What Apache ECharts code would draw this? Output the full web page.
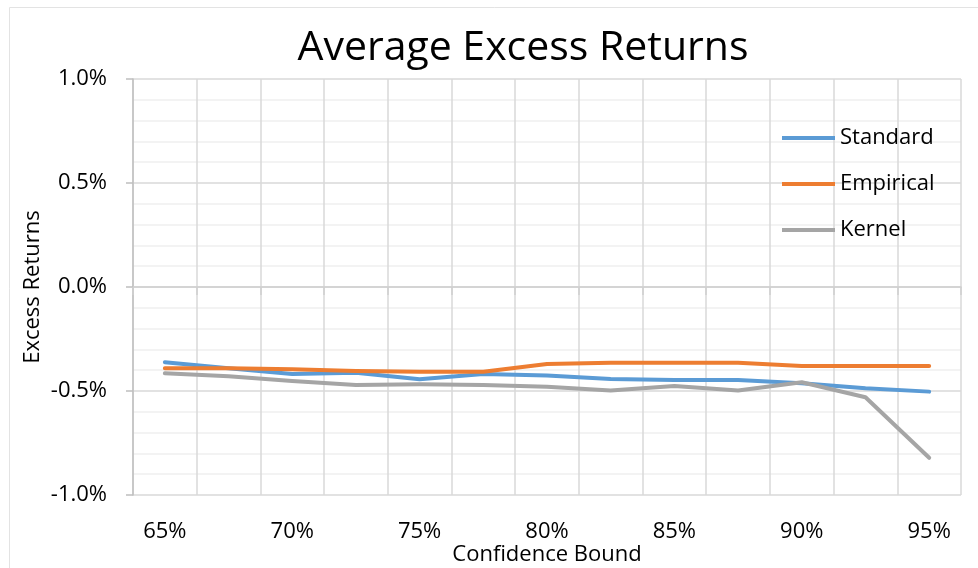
<!DOCTYPE html>
<html>
<head>
<meta charset="utf-8">
<script src="https://cdn.jsdelivr.net/npm/echarts@6/dist/echarts.min.js"></script>
<style>
  html, body { margin: 0; padding: 0; background: #fff; }
  #chart { width: 978px; height: 568px; }
</style>
</head>
<body>
<div id="chart"></div>
<script>
// Confidence bounds (x categories) and average excess returns in percent
const categories = ['65%', '67.5%', '70%', '72.5%', '75%', '77.5%', '80%', '82.5%', '85%', '87.5%', '90%', '92.5%', '95%'];
const standard  = [-0.362, -0.391, -0.418, -0.412, -0.443, -0.418, -0.426, -0.442, -0.447, -0.447, -0.463, -0.487, -0.503];
const empirical = [-0.391, -0.391, -0.396, -0.404, -0.407, -0.407, -0.370, -0.364, -0.364, -0.364, -0.380, -0.380, -0.380];
const kernel    = [-0.415, -0.429, -0.452, -0.471, -0.468, -0.471, -0.479, -0.498, -0.476, -0.498, -0.458, -0.530, -0.821];
const yTicks = { min: -1.0, max: 1.0, step: 0.5 };

const FONT = '"Open Sans", "Noto Sans", sans-serif';
const chart = echarts.init(document.getElementById('chart'), null, { renderer: 'canvas' });

chart.setOption({
  animation: false,
  backgroundColor: '#ffffff',
  graphic: [{
    type: 'rect',
    shape: { x: 9.5, y: 7.5, width: 1000, height: 600 },
    style: { fill: 'none', stroke: '#e3e3e3', lineWidth: 1 },
    silent: true
  }],
  title: {
    text: 'Average Excess Returns',
    left: 518, top: 23, textAlign: 'center',
    textStyle: { fontFamily: FONT, fontSize: 41, fontWeight: 'normal', color: '#000' }
  },
  legend: {
    orient: 'vertical',
    left: 777, top: 122,
    icon: 'rect',
    itemWidth: 53, itemHeight: 4, itemGap: 24,
    textStyle: { fontFamily: FONT, fontSize: 22, lineHeight: 22, color: '#000' },
    data: ['Standard', 'Empirical', 'Kernel']
  },
  grid: { left: 133, right: 17, top: 79, bottom: 73, containLabel: false, outerBoundsMode: 'none' },
  xAxis: [{
    type: 'category',
    data: categories,
    boundaryGap: true,
    position: 'bottom',
    name: 'Confidence Bound',
    nameLocation: 'middle',
    nameGap: 49,
    nameMoveOverlap: false,
    nameTextStyle: { fontFamily: FONT, fontSize: 22, color: '#000' },
    axisLine: { show: false, onZero: false },
    axisTick: { show: false },
    axisLabel: { interval: 1, margin: 26, fontFamily: FONT, fontSize: 22, color: '#000' },
    splitLine: { show: true, interval: 0, lineStyle: { color: '#d9d9d9', width: 1.5 } }
  }, {
    // zero line with downward ticks, as the category axis crosses at 0
    type: 'category',
    data: categories,
    boundaryGap: true,
    position: 'bottom',
    axisLine: { show: true, onZero: true, onZeroAxisIndex: 0, lineStyle: { color: '#d0d0d0', width: 1.5 } },
    axisTick: { show: true, interval: 0, length: 8, lineStyle: { color: '#d0d0d0', width: 1.5 } },
    axisLabel: { show: false },
    splitLine: { show: false }
  }],
  yAxis: {
    type: 'value',
    min: yTicks.min, max: yTicks.max, interval: yTicks.step,
    name: 'Excess Returns',
    nameLocation: 'middle',
    nameGap: 89,
    nameMoveOverlap: false,
    nameTextStyle: { fontFamily: FONT, fontSize: 22, color: '#000' },
    axisLine: { show: true, lineStyle: { color: '#bfbfbf', width: 1.5 } },
    axisTick: { show: true, length: 7, lineStyle: { color: '#bfbfbf', width: 1.5 } },
    axisLabel: {
      margin: 26, fontFamily: FONT, fontSize: 22, color: '#000',
      formatter: v => v.toFixed(1) + '%'
    },
    splitLine: { show: true, lineStyle: { color: '#d9d9d9', width: 1.5 } },
    minorTick: { show: false, splitNumber: 5 },
    minorSplitLine: { show: true, lineStyle: { color: '#f0f0f0', width: 1.5 } }
  },
  series: [
    { name: 'Standard', type: 'line', data: standard, symbol: 'none', color: '#5b9bd5',
      lineStyle: { width: 4, cap: 'round', join: 'round' } },
    { name: 'Empirical', type: 'line', data: empirical, symbol: 'none', color: '#ed7d31',
      lineStyle: { width: 4, cap: 'round', join: 'round' } },
    { name: 'Kernel', type: 'line', data: kernel, symbol: 'none', color: '#a5a5a5',
      lineStyle: { width: 4, cap: 'round', join: 'round' } }
  ]
});
</script>
</body>
</html>
